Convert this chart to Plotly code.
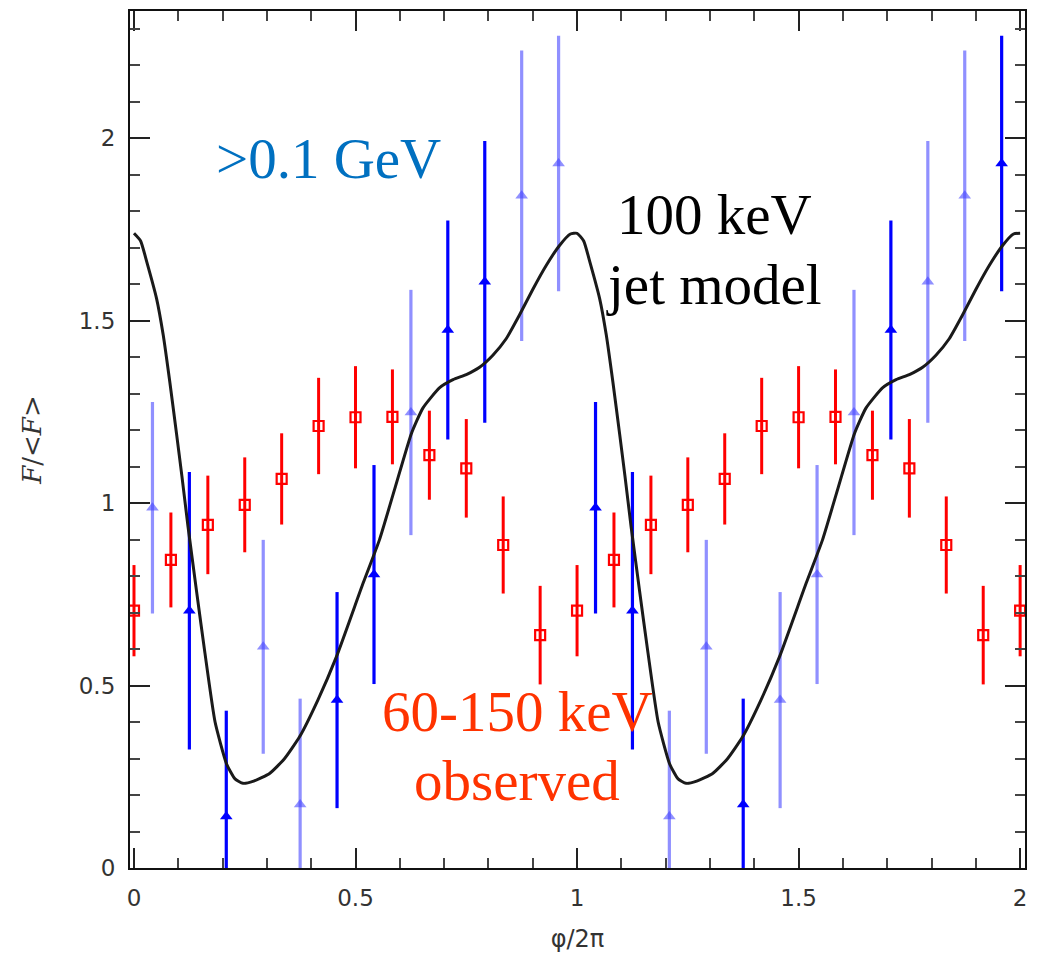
import plotly.graph_objects as go

# ---------------- data ----------------
# 60-150 keV observed light curve (one cycle, 12 phase bins)
red_phase = [0.0, 0.0833, 0.1667, 0.25, 0.3333, 0.4167, 0.5, 0.5833, 0.6667, 0.75, 0.8333, 0.9167]
red_flux = [0.705, 0.844, 0.940, 0.995, 1.066, 1.211, 1.235, 1.236, 1.131, 1.095, 0.885, 0.638]
red_err = [0.125, 0.130, 0.135, 0.130, 0.125, 0.132, 0.140, 0.130, 0.122, 0.135, 0.133, 0.135]

# >0.1 GeV light curve (one cycle, 12 phase bins)
blue_phase = [0.0417, 0.125, 0.2083, 0.2917, 0.375, 0.4583, 0.5417, 0.625, 0.7083, 0.7917, 0.875, 0.9583]
blue_flux = [0.987, 0.705, 0.141, 0.606, 0.174, 0.460, 0.804, 1.248, 1.474, 1.606, 1.842, 1.930]
blue_err = [0.290, 0.380, 0.290, 0.293, 0.290, 0.296, 0.300, 0.336, 0.300, 0.386, 0.398, 0.350]

# 100 keV jet model curve (one cycle)
model_phase = [0.0, 0.015, 0.029, 0.051, 0.066, 0.081, 0.096, 0.108, 0.122, 0.141, 0.160, 0.183, 0.209,
               0.228, 0.246, 0.270, 0.306, 0.340, 0.374, 0.415, 0.457, 0.517, 0.554, 0.590,
               0.626, 0.652, 0.690, 0.720, 0.750, 0.780, 0.810, 0.840, 0.870, 0.900, 0.930,
               0.960, 0.985]
model_flux = [1.739, 1.718, 1.660, 1.560, 1.460, 1.330, 1.190, 1.075, 0.935, 0.760, 0.590, 0.400, 0.285,
              0.244, 0.232, 0.238, 0.259, 0.300, 0.360, 0.460, 0.579, 0.780, 0.899, 1.045,
              1.190, 1.260, 1.316, 1.338, 1.352, 1.372, 1.405, 1.450, 1.515, 1.585, 1.650,
              1.705, 1.737]

x_ticks = [0, 0.5, 1, 1.5, 2]
x_tick_labels = ["0", "0.5", "1", "1.5", "2"]
y_ticks = [0, 0.5, 1, 1.5, 2]
y_tick_labels = ["0", "0.5", "1", "1.5", "2"]

# rendering shade of each blue bar (two cycles), as in the reference image
blue_shade = ["L", "D", "D", "L", "L", "D", "D", "L", "D", "D", "L", "L",
              "D", "D", "L", "L", "D", "L", "L", "L", "D", "L", "L", "D"]

# ---------------- two cycles ----------------
rx = red_phase + [p + 1 for p in red_phase] + [2.0]
ry = red_flux + red_flux + [red_flux[0]]
re = red_err + red_err + [red_err[0]]

bx = blue_phase + [p + 1 for p in blue_phase]
by = blue_flux + blue_flux
be = blue_err + blue_err

mx = model_phase + [p + 1 for p in model_phase] + [2.0]
my = model_flux + model_flux + [model_flux[0]]

fig = go.Figure()

# blue points split by shade
for shade, col in [("L", "rgba(70,70,255,0.6)"), ("D", "#0000ff")]:
    idx = [i for i, s in enumerate(blue_shade) if s == shade]
    fig.add_trace(go.Scatter(
        x=[bx[i] for i in idx], y=[by[i] for i in idx], mode="markers",
        marker=dict(symbol="triangle-up", size=11, color=col, line=dict(width=0)),
        error_y=dict(type="data", array=[be[i] for i in idx], color=col, thickness=3.2, width=0),
        showlegend=False))

# red points
fig.add_trace(go.Scatter(
    x=rx, y=ry, mode="markers",
    marker=dict(symbol="square-open", size=10, color="#ff0000", line=dict(width=2.2, color="#ff0000")),
    error_y=dict(type="data", array=re, color="#ff0000", thickness=3, width=0),
    showlegend=False))

# model curve
fig.add_trace(go.Scatter(
    x=mx, y=my, mode="lines", line=dict(color="#1a1a1a", width=3, shape="spline", smoothing=0.5),
    showlegend=False))

serif = "Liberation Serif, Times New Roman, serif"
fig.add_annotation(x=0.18, y=1.945, xref="x", yref="y", text=">0.1 GeV", showarrow=False,
                   xanchor="left", yanchor="middle", font=dict(family=serif, size=57, color="#0070c0"))
fig.add_annotation(x=1.31, y=1.79, xref="x", yref="y", text="100 keV", showarrow=False,
                   xanchor="center", yanchor="middle", font=dict(family=serif, size=57, color="#000000"))
fig.add_annotation(x=1.31, y=1.6, xref="x", yref="y", text="jet model", showarrow=False,
                   xanchor="center", yanchor="middle", font=dict(family=serif, size=57, color="#000000"))
fig.add_annotation(x=0.865, y=0.43, xref="x", yref="y", text="60-150 keV", showarrow=False,
                   xanchor="center", yanchor="middle", font=dict(family=serif, size=57, color="#ff3300"))
fig.add_annotation(x=0.865, y=0.24, xref="x", yref="y", text="observed", showarrow=False,
                   xanchor="center", yanchor="middle", font=dict(family=serif, size=57, color="#ff3300"))

axis_common = dict(showline=True, linecolor="#111", linewidth=2.2, mirror="allticks",
                   ticks="inside", ticklen=20, tickwidth=2, tickcolor="#222",
                   showgrid=False, zeroline=False, automargin=False,
                   tickfont=dict(family="DejaVu Sans, sans-serif", size=23, color="#333"))

fig.update_xaxes(range=[-0.009, 2.011], tickvals=x_ticks, ticktext=x_tick_labels, ticklabelstandoff=8,
                 minor=dict(dtick=0.1, ticks="inside", ticklen=10, tickwidth=2, tickcolor="#444", showgrid=False),
                 title=dict(text="φ/2π", font=dict(family="DejaVu Sans, sans-serif", size=24, color="#333"), standoff=26),
                 **axis_common)
fig.update_yaxes(range=[0, 2.348], tickvals=y_ticks, ticktext=y_tick_labels, ticklabelstandoff=8,
                 minor=dict(dtick=0.1, ticks="inside", ticklen=10, tickwidth=2, tickcolor="#444", showgrid=False),
                 title=dict(text="<i>F</i>/&lt;<i>F</i>&gt;", font=dict(family="DejaVu Serif, serif", size=26, color="#333"), standoff=30),
                 **axis_common)

# the page body adds an 8px offset, so the figure is sized/margined to compensate
fig.update_layout(width=1030, height=945, margin=dict(l=122, r=13, t=3, b=85),
                  plot_bgcolor="white", paper_bgcolor="white", showlegend=False)

fig.write_html("out.html")
